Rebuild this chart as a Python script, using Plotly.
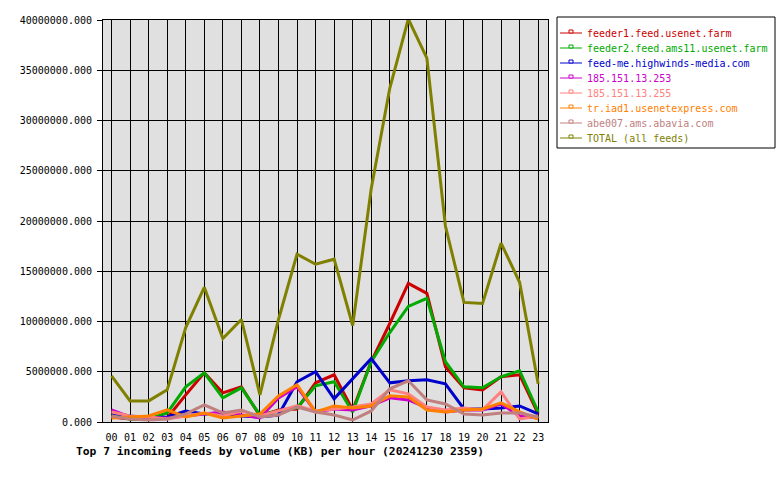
import plotly.graph_objects as go

hours = ["00","01","02","03","04","05","06","07","08","09","10","11",
         "12","13","14","15","16","17","18","19","20","21","22","23"]

feeder1 = [0.5e6,0.3e6,0.3e6,0.4e6,2.7e6,4.9e6,2.9e6,3.5e6,0.6e6,1.2e6,1.3e6,3.9e6,
           4.7e6,1.2e6,6.0e6,9.8e6,13.8e6,12.8e6,5.5e6,3.4e6,3.2e6,4.5e6,4.7e6,0.8e6]
feeder2 = [0.7e6,0.3e6,0.3e6,0.9e6,3.5e6,4.9e6,2.4e6,3.4e6,0.7e6,1.1e6,1.4e6,3.6e6,
           4.0e6,1.0e6,6.0e6,8.9e6,11.5e6,12.3e6,6.0e6,3.5e6,3.4e6,4.5e6,5.1e6,1.0e6]
highwinds = [0.9e6,0.6e6,0.4e6,0.5e6,1.1e6,0.8e6,0.9e6,0.6e6,0.5e6,0.7e6,4.0e6,5.0e6,
             2.3e6,4.3e6,6.3e6,3.9e6,4.1e6,4.2e6,3.8e6,1.3e6,1.3e6,1.4e6,1.6e6,0.8e6]
ip253 = [1.2e6,0.5e6,0.4e6,0.4e6,0.6e6,0.8e6,1.0e6,0.7e6,0.4e6,2.4e6,3.5e6,1.0e6,
         1.3e6,1.2e6,1.6e6,2.4e6,2.2e6,1.4e6,1.0e6,1.2e6,1.2e6,1.8e6,0.6e6,0.4e6]
ip255 = [1.0e6,0.6e6,0.5e6,0.3e6,0.6e6,0.9e6,0.6e6,1.1e6,0.6e6,1.1e6,1.6e6,1.1e6,
         1.3e6,1.5e6,1.8e6,3.2e6,2.8e6,1.5e6,1.2e6,1.4e6,1.2e6,3.0e6,0.3e6,0.6e6]
usenetexpress = [0.4e6,0.5e6,0.6e6,1.2e6,0.5e6,0.9e6,0.4e6,0.6e6,0.8e6,2.6e6,3.7e6,1.0e6,
                 1.6e6,1.4e6,1.6e6,2.6e6,2.5e6,1.2e6,1.0e6,1.2e6,1.3e6,1.9e6,1.0e6,0.3e6]
abavia = [0.6e6,0.3e6,0.2e6,0.3e6,0.8e6,1.7e6,0.9e6,1.2e6,0.5e6,0.7e6,1.5e6,1.0e6,
          0.7e6,0.2e6,1.1e6,3.3e6,4.1e6,2.2e6,1.8e6,0.8e6,0.7e6,0.9e6,0.9e6,0.5e6]
total = [4.6e6,2.1e6,2.1e6,3.2e6,9.4e6,13.4e6,8.3e6,10.2e6,2.7e6,10.2e6,16.7e6,15.7e6,
         16.2e6,9.6e6,23.2e6,33.2e6,40.1e6,36.2e6,19.5e6,11.9e6,11.8e6,17.8e6,13.9e6,3.8e6]

names = ["feeder1.feed.usenet.farm", "feeder2.feed.ams11.usenet.farm",
         "feed-me.highwinds-media.com", "185.151.13.253", "185.151.13.255",
         "tr.iad1.usenetexpress.com", "abe007.ams.abavia.com", "TOTAL (all feeds)"]
series = [feeder1, feeder2, highwinds, ip253, ip255, usenetexpress, abavia, total]
colors = ["#cc0000", "#00aa00", "#0000cc", "#cc00cc", "#ff8080",
          "#ff8000", "#c08080", "#808000"]

yticks = [0, 5e6, 10e6, 15e6, 20e6, 25e6, 30e6, 35e6, 40e6]
title = "Top 7 incoming feeds by volume (KB) per hour (20241230 2359)"

W, H = 780, 480
L, R, T, B = 103, 232, 20, 58
pw, ph = W - L - R, H - T - B

def px(x):
    return (x - L) / pw

def py(y):
    return (H - B - y) / ph

FONT = "DejaVu Sans Mono"
fig = go.Figure()
xs = list(range(len(hours)))
for name, vals, col in zip(names, series, colors):
    fig.add_trace(go.Scatter(x=xs, y=vals, mode="lines", name=name,
                             line=dict(color=col, width=3), showlegend=False,
                             cliponaxis=False))

shapes = []
annotations = []
# legend box
shapes.append(dict(type="rect", xref="paper", yref="paper",
                   x0=px(557), x1=px(775), y0=py(148), y1=py(17),
                   line=dict(color="black", width=1), fillcolor="white", layer="above"))
for i, (name, col) in enumerate(zip(names, colors)):
    yc = 33 + 15 * i
    shapes.append(dict(type="line", xref="paper", yref="paper",
                       x0=px(560), x1=px(582), y0=py(yc), y1=py(yc),
                       line=dict(color=col, width=1), layer="above"))
    shapes.append(dict(type="rect", xref="paper", yref="paper",
                       x0=px(569), x1=px(573), y0=py(yc), y1=py(yc - 3),
                       line=dict(color=col, width=1), fillcolor="white", layer="above"))
    annotations.append(dict(text=name, xref="paper", yref="paper",
                            x=px(585), y=py(yc), xanchor="left", yanchor="middle",
                            showarrow=False, font=dict(family=FONT, size=10, color=col)))

annotations.append(dict(text="<b>" + title + "</b>", xref="paper", yref="paper",
                        x=px(74), y=py(451), xanchor="left", yanchor="middle",
                        showarrow=False, font=dict(family=FONT, size=11.3, color="black")))

fig.update_layout(
    width=W, height=H,
    margin=dict(l=L, r=R, t=T, b=B, pad=0),
    paper_bgcolor="white", plot_bgcolor="#e0e0e0",
    shapes=shapes, annotations=annotations,
    font=dict(family=FONT, size=10, color="black"),
    xaxis=dict(range=[-0.46, 23.53], tickvals=xs, ticktext=hours,
               showgrid=True, gridcolor="black", gridwidth=1,
               showline=True, linecolor="black", linewidth=1, mirror=True,
               ticks="", zeroline=False, ticklabelstandoff=6,
               tickfont=dict(family=FONT, size=10, color="black")),
    yaxis=dict(range=[0, 40e6], tickvals=yticks,
               ticktext=[f"{v:.3f}" for v in yticks],
               showgrid=True, gridcolor="black", gridwidth=1,
               showline=True, linecolor="black", linewidth=1, mirror=True,
               ticks="outside", ticklen=5, tickcolor="black", zeroline=False,
               ticklabelstandoff=3,
               tickfont=dict(family=FONT, size=10, color="black")),
)

fig.write_html("out.html")
